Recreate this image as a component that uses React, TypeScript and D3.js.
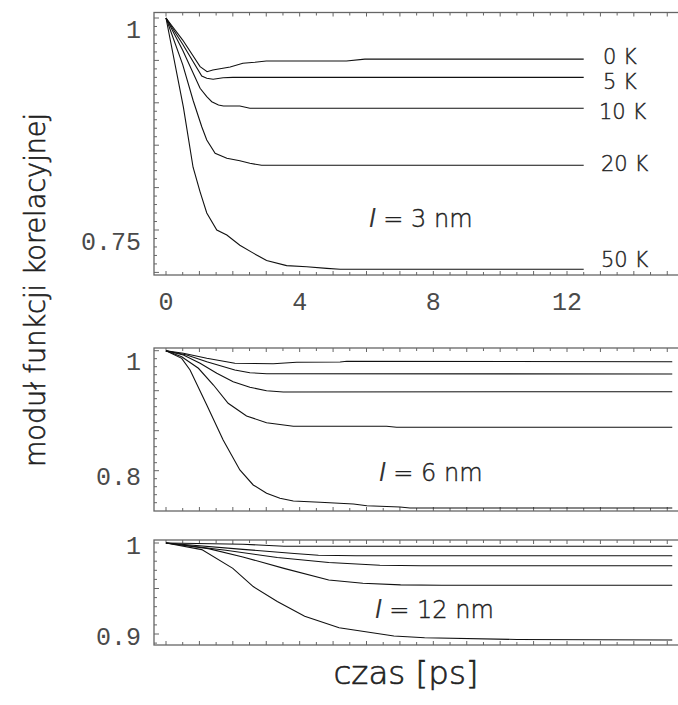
import React from "react";
import * as d3 from "d3";

type Pt = [number, number];

// temperatures (curve labels)
const temperatures = ["0 K", "5 K", "10 K", "20 K", "50 K"];

// l = 3 nm  [time ps, |C|]
const l3_0K: Pt[] = [[0, 1], [0.5, 0.974], [1.02, 0.9426], [1.23, 0.9367], [1.4, 0.9387], [1.92, 0.9422], [2.3, 0.9466], [2.66, 0.9478], [3.0, 0.9493], [5.4, 0.9493], [5.95, 0.9515], [12.5, 0.9515]];
const l3_5K: Pt[] = [[0, 1], [0.5, 0.969], [1.07, 0.9316], [1.22, 0.9289], [1.41, 0.9277], [1.71, 0.9296], [2.0, 0.930], [12.5, 0.930]];
const l3_10K: Pt[] = [[0, 1], [0.5, 0.962], [1.02, 0.9171], [1.22, 0.9072], [1.37, 0.9013], [1.57, 0.8974], [1.72, 0.8962], [2.21, 0.8962], [2.51, 0.8935], [12.5, 0.8935]];
const l3_20K: Pt[] = [[0, 1], [0.5, 0.945], [0.81, 0.903], [1.07, 0.8718], [1.22, 0.8561], [1.47, 0.8404], [1.82, 0.8345], [2.21, 0.8317], [2.51, 0.8287], [2.86, 0.8263], [12.5, 0.8263]];
const l3_50K: Pt[] = [[0, 1], [0.52, 0.895], [0.81, 0.824], [1.02, 0.795], [1.22, 0.770], [1.52, 0.750], [1.82, 0.744], [2.21, 0.732], [2.6, 0.723], [3.01, 0.714], [3.61, 0.708], [4.21, 0.7067], [4.81, 0.7048], [5.21, 0.7037], [12.5, 0.7037]];

// l = 6 nm
const l6_0K: Pt[] = [[0, 1], [0.52, 0.9957], [1.22, 0.9873], [2.06, 0.979], [3.21, 0.9783], [3.91, 0.9807], [5.21, 0.9812], [5.41, 0.9823], [15.15, 0.9817]];
const l6_5K: Pt[] = [[0, 1], [0.62, 0.9928], [1.22, 0.9817], [2.06, 0.9678], [2.51, 0.9633], [3.01, 0.9617], [15.15, 0.9612]];
const l6_10K: Pt[] = [[0, 1], [0.52, 0.9928], [1.02, 0.979], [1.52, 0.9623], [2.01, 0.9483], [2.51, 0.939], [3.01, 0.9333], [3.51, 0.9312], [15.15, 0.9317]];
const l6_20K: Pt[] = [[0, 1], [0.47, 0.99], [0.97, 0.9707], [1.42, 0.9428], [1.86, 0.9123], [2.41, 0.8912], [3.01, 0.88], [3.81, 0.874], [6.6, 0.874], [6.9, 0.8723], [15.15, 0.8723]];
const l6_50K: Pt[] = [[0, 1], [0.47, 0.9873], [0.72, 0.9678], [1.22, 0.9095], [1.71, 0.8512], [2.21, 0.8012], [2.61, 0.7762], [3.01, 0.7623], [3.41, 0.754], [3.81, 0.7495], [4.61, 0.7473], [5.61, 0.7445], [6.01, 0.7417], [7.0, 0.7395], [7.3, 0.7378], [15.15, 0.7378]];

// l = 12 nm
const l12_0K: Pt[] = [[0, 1], [2.3, 0.9986], [3.53, 0.9965], [15.15, 0.9965]];
const l12_5K: Pt[] = [[0, 1], [2.3, 0.9930], [3.84, 0.9885], [4.56, 0.9865], [5.69, 0.986], [15.15, 0.986]];
const l12_10K: Pt[] = [[0, 1], [1.79, 0.992], [3.33, 0.9840], [4.87, 0.9785], [6.4, 0.9755], [7.63, 0.975], [15.15, 0.975]];
const l12_20K: Pt[] = [[0, 1], [1.27, 0.9938], [2.3, 0.9847], [3.53, 0.9721], [4.87, 0.9593], [5.89, 0.9557], [7.02, 0.954], [8.25, 0.9535], [15.15, 0.9535]];
const l12_50K: Pt[] = [[0, 1], [1.07, 0.9927], [2.0, 0.9721], [2.61, 0.9521], [3.33, 0.9358], [4.15, 0.9196], [5.18, 0.9068], [6.82, 0.8978], [7.74, 0.8959], [10.5, 0.894], [15.15, 0.8934]];

const xTickLabels = [0, 4, 8, 12];
const yLabels3 = [1, 0.75];
const yLabels6 = [1, 0.8];
const yLabels12 = [1, 0.9];

const W = 678;
const H = 705;
const FRAME_L = 154;
const FRAME_R = 700;

const xScale = d3.scaleLinear().domain([0, 12]).range([166, 567]);

type Panel = {
  series: Pt[][];
  y: d3.ScaleLinear<number, number>;
  top: number;
  bottom: number;
  yLabels: number[];
  labelDy: number[];
  minorStep: number;
  majorEvery: number;
  lName: string;
  lX: number;
  lY: number;
  showLabels: boolean;
};

const panels: Panel[] = [
  {
    series: [l3_0K, l3_5K, l3_10K, l3_20K, l3_50K],
    y: d3.scaleLinear().domain([1, 0.75]).range([18, 230]),
    top: 12.5,
    bottom: 275,
    yLabels: yLabels3,
    labelDy: [11, 11],
    minorStep: 0.01,
    majorEvery: 5,
    lName: " = 3 nm",
    lX: 369,
    lY: 227,
    showLabels: true,
  },
  {
    series: [l6_0K, l6_5K, l6_10K, l6_20K, l6_50K],
    y: d3.scaleLinear().domain([1, 0.8]).range([350.7, 470.7]),
    top: 348,
    bottom: 511,
    yLabels: yLabels6,
    labelDy: [10.5, 6],
    minorStep: 0.2 / 15,
    majorEvery: 5,
    lName: " = 6 nm",
    lX: 379,
    lY: 481,
    showLabels: false,
  },
  {
    series: [l12_0K, l12_5K, l12_10K, l12_20K, l12_50K],
    y: d3.scaleLinear().domain([1, 0.9]).range([543, 634]),
    top: 540,
    bottom: 645,
    yLabels: yLabels12,
    labelDy: [2, 2],
    minorStep: 0.01,
    majorEvery: 5,
    lName: " = 12 nm",
    lX: 375,
    lY: 618,
    showLabels: false,
  },
];

// curve label centres (top panel)
const curveLabelPos: Pt[] = [[603, 56], [603, 81], [599, 111], [601, 163.5], [601, 259.6]];

const SANS = "'DejaVu Sans', 'Liberation Sans', sans-serif";
const MONO = "'Liberation Mono', 'Courier New', monospace";
const FRAME_COLOR = "#666";
const TEXT_COLOR = "#222";

function PanelView({ p }: { p: Panel }) {
  const line = d3
    .line<Pt>()
    .x((d) => xScale(d[0]))
    .y((d) => p.y(d[1]));

  const yTicks: { y: number; major: boolean }[] = [];
  for (let i = 0; i < 200; i++) {
    const v = 1 - i * p.minorStep;
    const yy = p.y(v);
    if (yy > p.bottom - 1) break;
    yTicks.push({ y: yy, major: i % p.majorEvery === 0 });
  }
  const xTicks: { x: number; major: boolean }[] = [];
  for (let i = -1; i < 40; i++) {
    const t = i * 0.5;
    const xx = xScale(t);
    if (xx <= FRAME_L + 1) continue;
    if (xx > W + 5) break;
    xTicks.push({ x: xx, major: i % 2 === 0 });
  }

  return (
    <g>
      <rect
        x={FRAME_L}
        y={p.top}
        width={FRAME_R - FRAME_L}
        height={p.bottom - p.top}
        fill="none"
        stroke={FRAME_COLOR}
        strokeWidth={1.3}
      />
      {yTicks.map((t, i) => (
        <line key={"yt" + i} x1={FRAME_L} x2={FRAME_L + (t.major ? 5 : 3)} y1={t.y} y2={t.y} stroke={FRAME_COLOR} strokeWidth={1} />
      ))}
      {xTicks.map((t, i) => (
        <g key={"xt" + i}>
          <line x1={t.x} x2={t.x} y1={p.bottom} y2={p.bottom - (t.major ? 4 : 3)} stroke={FRAME_COLOR} strokeWidth={1} />
          <line x1={t.x} x2={t.x} y1={p.top} y2={p.top + (t.major ? 4 : 3)} stroke={FRAME_COLOR} strokeWidth={1} />
        </g>
      ))}
      {p.yLabels.map((v, i) => (
        <text
          key={"yl" + i}
          x={141}
          y={p.y(v) + p.labelDy[i] + 8.5}
          textAnchor="end"
          fontFamily={MONO}
          fontSize={25}
          fill="#4a4a4a"
        >
          {String(v)}
        </text>
      ))}
      {p.series.map((s, i) => (
        <path key={"s" + i} d={line(s) || ""} fill="none" stroke="#111" strokeWidth={1.1} />
      ))}
      <text x={p.lX} y={p.lY} fontFamily={SANS} fontWeight={200} fontSize={24} fill={TEXT_COLOR}>
        <tspan fontStyle="italic" fill="#333">l</tspan>
        <tspan stroke={TEXT_COLOR} strokeWidth={0.4}>{p.lName}</tspan>
      </text>
      {p.showLabels &&
        temperatures.map((tname, i) => (
          <text
            key={"cl" + i}
            x={curveLabelPos[i][0]}
            y={curveLabelPos[i][1] + 7.5}
            fontFamily={SANS}
            fontWeight={200}
            fontSize={21}
            fill={TEXT_COLOR}
            stroke={TEXT_COLOR}
            strokeWidth={0.4}
          >
            {tname}
          </text>
        ))}
      {p.showLabels &&
        xTickLabels.map((v) => (
          <text key={"xl" + v} x={xScale(v)} y={310} textAnchor="middle" fontFamily={MONO} fontSize={25} fill="#4a4a4a">
            {String(v)}
          </text>
        ))}
    </g>
  );
}

export default function App() {
  return (
    <svg
      width={W}
      height={H}
      viewBox={`0 0 ${W} ${H}`}
      style={{ position: "absolute", left: 0, top: 0, background: "#fff" }}
    >
      <rect x={0} y={0} width={W} height={H} fill="#fff" />
      {panels.map((p, i) => (
        <PanelView key={i} p={p} />
      ))}
      <text
        transform="translate(45,290) rotate(-90)"
        textAnchor="middle"
        fontFamily={SANS}
        fontWeight={200}
        fontSize={28}
        textLength={354}
        lengthAdjust="spacingAndGlyphs"
        fill={TEXT_COLOR}
        stroke={TEXT_COLOR}
        strokeWidth={0.6}
      >
        moduł funkcji korelacyjnej
      </text>
      <text
        x={406}
        y={684}
        textAnchor="middle"
        fontFamily={SANS}
        fontWeight={200}
        fontSize={32}
        textLength={145}
        lengthAdjust="spacingAndGlyphs"
        fill={TEXT_COLOR}
        stroke={TEXT_COLOR}
        strokeWidth={0.6}
      >
        czas [ps]
      </text>
    </svg>
  );
}
